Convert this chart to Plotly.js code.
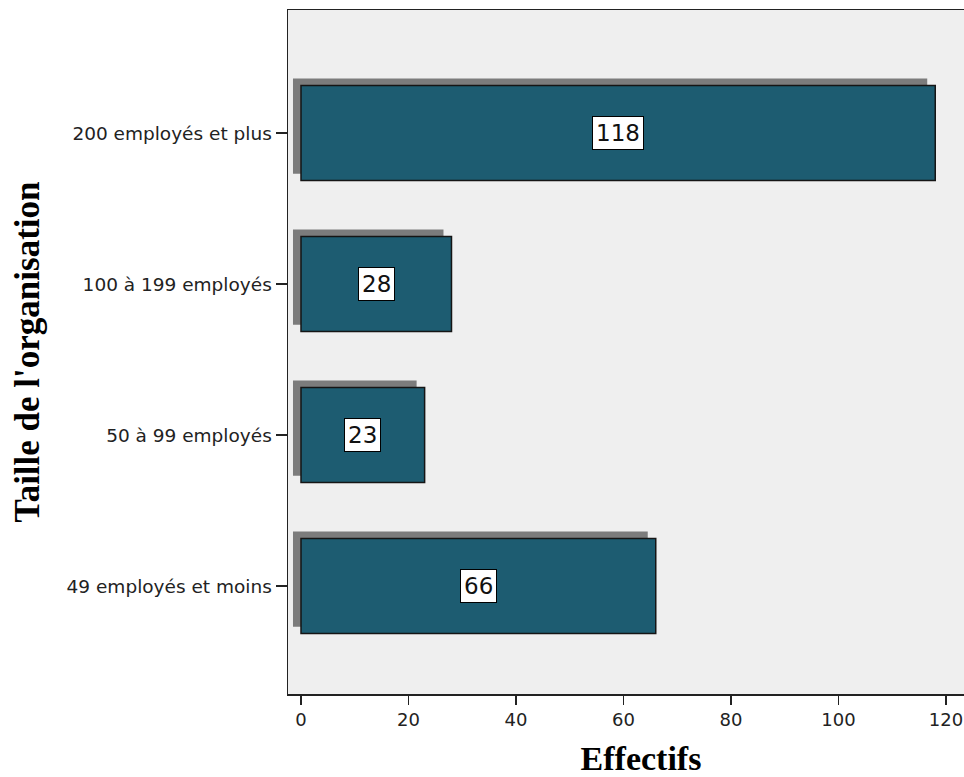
<!DOCTYPE html>
<html>
<head>
<meta charset="utf-8">
<script src="https://cdn.plot.ly/plotly-3.0.1.min.js"></script>
<style>html,body{margin:0;padding:0;background:#fff;overflow:hidden}#wrap{width:964px;height:777px;overflow:hidden}#chart{width:994px;height:777px}</style>
</head>
<body>
<div id="wrap"><div id="chart"></div></div>
<script>
const categories = ["49 employés et moins", "50 à 99 employés", "100 à 199 employés", "200 employés et plus"];
const counts = [66, 23, 28, 118];
const xTickValues = [0, 20, 40, 60, 80, 100, 120];
const xTitle = "Effectifs";
const yTitle = "Taille de l'organisation";

const barWidth = 0.63;
const shadowShiftX = -1.49;   // shadow shift in data units (~8px)
const shadowShiftY = 0.046;   // shadow shift in category units (~7px)

const shadow = {
  type: "bar", orientation: "h",
  y: categories, x: counts,
  base: shadowShiftX,
  width: barWidth,
  offset: -barWidth / 2 + shadowShiftY,
  marker: {color: "#7c7c7c", line: {width: 0}},
  hoverinfo: "skip", showlegend: false
};
const bars = {
  type: "bar", orientation: "h",
  y: categories, x: counts,
  width: barWidth,
  marker: {color: "rgb(29,92,113)", line: {color: "#151515", width: 1.5}},
  showlegend: false
};

const annotations = counts.map((v, i) => ({
  x: v / 2, y: categories[i], xref: "x", yref: "y",
  text: String(v), showarrow: false,
  bgcolor: "#ffffff", bordercolor: "#000000", borderwidth: 1, borderpad: 3,
  font: {family: "DejaVu Sans, sans-serif", size: 23, color: "#111"}
}));

const layout = {
  width: 994, height: 777,
  margin: {l: 288, r: 0, t: 10, b: 83},
  paper_bgcolor: "#ffffff",
  plot_bgcolor: "#efefef",
  barmode: "overlay",
  showlegend: false,
  xaxis: {
    range: [-2.419, 128.93],
    tickvals: xTickValues,
    ticks: "outside", ticklen: 9, tickwidth: 1.5, tickcolor: "#222",
    showgrid: false, zeroline: false,
    showline: true, mirror: true, linecolor: "#222", linewidth: 1.5,
    tickfont: {family: "DejaVu Sans, sans-serif", size: 18, color: "#222"},
    title: {text: xTitle, standoff: 19,
      font: {family: "Liberation Serif, serif", size: 34, color: "#000", weight: "bold"}}
  },
  yaxis: {
    type: "category",
    categoryorder: "array", categoryarray: categories,
    range: [-0.715, 3.815],
    ticks: "outside", ticklen: 11, tickwidth: 1.5, tickcolor: "#222",
    showgrid: false, zeroline: false,
    showline: true, mirror: false, linecolor: "#222", linewidth: 1.5,
    tickfont: {family: "DejaVu Sans, sans-serif", size: 18.5, color: "#222"},
    title: {text: yTitle, standoff: 16,
      font: {family: "Liberation Serif, serif", size: 35, color: "#000", weight: "bold"}}
  },
  annotations: annotations
};

Plotly.newPlot("chart", [shadow, bars], layout, {displayModeBar: false, staticPlot: true});
</script>
</body>
</html>
